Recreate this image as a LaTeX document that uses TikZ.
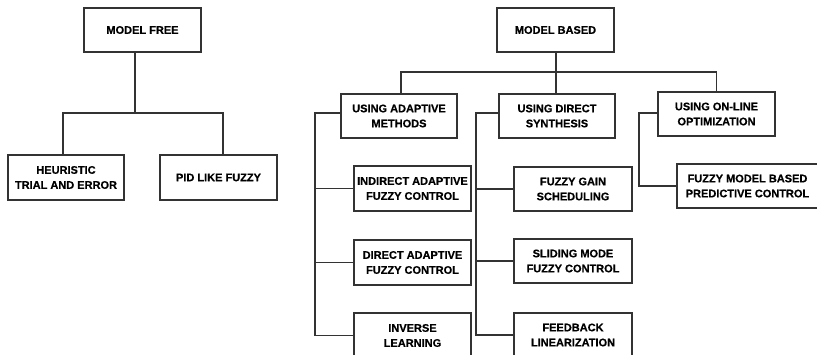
\documentclass[tikz,border=0pt]{standalone}
\usepackage{fontspec}
\setmainfont[BoldFeatures={FakeBold=0.6}]{Liberation Sans}
\begin{document}
\begin{tikzpicture}[x=1pt,y=-1pt,
  box/.style={draw=black!80, line width=1.1pt, rectangle, align=center, inner sep=0pt,
    font=\fontsize{11}{15}\selectfont\bfseries, minimum height=44pt},
  conn/.style={draw=black!80, line width=1.1pt}]
\useasboundingbox (0,0) rectangle (817,355);
\clip (0,0) rectangle (817,355);
% model free
\node[box, minimum width=117pt] (mf) at (142.5,30) {MODEL FREE};
\node[box, minimum width=116pt, minimum height=45pt] (heur) at (66,177.5) {HEURISTIC\\TRIAL AND ERROR};
\node[box, minimum width=117pt, minimum height=45pt] (pid) at (218.5,177.5) {PID LIKE FUZZY};
% model based
\node[box, minimum width=117pt] (mb) at (555.5,30) {MODEL BASED};
\node[box, minimum width=116pt] (ua) at (399,116) {USING ADAPTIVE\\METHODS};
\node[box, minimum width=116pt] (ud) at (557,116) {USING DIRECT\\SYNTHESIS};
\node[box, minimum width=117pt] (uo) at (716.5,114) {USING ON-LINE\\OPTIMIZATION};
\node[box, minimum width=117pt, minimum height=45pt] (ia) at (412.5,188.5) {INDIRECT ADAPTIVE\\FUZZY CONTROL};
\node[box, minimum width=117pt, minimum height=45pt] (da) at (412.5,262.5) {DIRECT ADAPTIVE\\FUZZY CONTROL};
\node[box, minimum width=117pt, minimum height=45pt] (il) at (412.5,335.5) {INVERSE\\LEARNING};
\node[box, minimum width=118pt] (fg) at (573,189) {FUZZY GAIN\\SCHEDULING};
\node[box, minimum width=118pt] (sm) at (573,261) {SLIDING MODE\\FUZZY CONTROL};
\node[box, minimum width=118pt] (fl) at (573,335) {FEEDBACK\\LINEARIZATION};
\node[box, minimum width=141pt] (fm) at (747.5,186) {FUZZY MODEL BASED\\PREDICTIVE CONTROL};
% connectors: model free
\coordinate (j1) at (135,113);
\draw[conn] (j1 |- mf.south) -- (j1);
\draw[conn] ([xshift=-3pt]heur.north) |- (j1) -| ([xshift=4.5pt]pid.north);
% model based
\coordinate (j2) at (556,72);
\draw[conn] (j2 |- mb.south) -- (j2 |- ud.north);
\draw[conn] ([xshift=2pt]ua.north) |- (j2) -| (uo.north);
% adaptive branch
\coordinate (b1) at (315,0);
\draw[conn] ([yshift=3pt]ua.west) -| (b1 |- il.west) -- (il.west);
\draw[conn] (b1 |- ia.west) -- (ia.west);
\draw[conn] (b1 |- da.west) -- (da.west);
% direct synthesis branch
\coordinate (b2) at (476,0);
\draw[conn] ([yshift=3pt]ud.west) -| (b2 |- fl.west) -- (fl.west);
\draw[conn] (b2 |- fg.west) -- (fg.west);
\draw[conn] (b2 |- sm.west) -- (sm.west);
% online branch
\coordinate (b3) at (639,0);
\draw[conn] ([yshift=1pt]uo.west) -| (b3 |- fm.west) -- (fm.west);
\end{tikzpicture}
\end{document}
